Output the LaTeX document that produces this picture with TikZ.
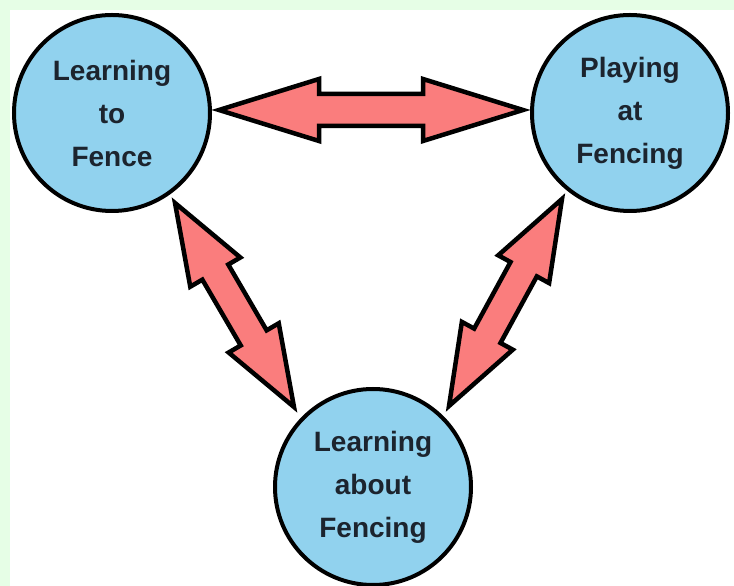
\documentclass[tikz,border=0pt]{standalone}
\usepackage{fontspec}
\setmainfont{Liberation Sans}
\usetikzlibrary{calc}
\definecolor{bggreen}{RGB}{230,254,230}
\definecolor{circblue}{RGB}{145,210,238}
\definecolor{arrred}{RGB}{250,125,125}
\definecolor{txtcol}{RGB}{28,36,46}
\pgfdeclarelayer{backlayer}
\pgfdeclarelayer{midlayer}
\pgfsetlayers{backlayer,midlayer,main}
\tikzset{
  topic/.style={circle, draw=black, line width=4pt, fill=circblue,
    minimum size=196pt, inner sep=0pt, align=center,
    font=\fontsize{28}{43}\selectfont\bfseries, text=txtcol},
  fatarrow/.style={draw=black, line width=4.5pt, fill=arrred, line join=miter},
}
% #1 prefix, #2 tip A, #3 tip B, #4 head length, #5 head half width, #6 shaft half width
\newcommand\dblarrow[6]{%
  \coordinate (#1h1) at ($(#2)!#4!(#3)$);
  \coordinate (#1h2) at ($(#3)!#4!(#2)$);
  \draw[fatarrow] (#2) -- ($(#1h1)!#5!90:(#3)$) -- ($(#1h1)!#6!90:(#3)$)
    -- ($(#1h2)!#6!-90:(#2)$) -- ($(#1h2)!#5!-90:(#2)$) -- (#3)
    -- ($(#1h2)!#5!90:(#2)$) -- ($(#1h2)!#6!90:(#2)$)
    -- ($(#1h1)!#6!-90:(#3)$) -- ($(#1h1)!#5!-90:(#3)$) -- cycle;
}
\begin{document}
\begin{tikzpicture}[x=1pt,y=1pt]
  \useasboundingbox (0,0) rectangle (734,586);
  \begin{pgfonlayer}{backlayer}
    \fill[bggreen] (0,0) rectangle (734,586);
    \fill[white] (10,0) rectangle (734,576);
  \end{pgfonlayer}
  \clip (0,0) rectangle (734,586);
  \node[topic] (L) at (112,473) {Learning\\to\\Fence};
  \node[topic] (R) at (630,473) {Playing\\at\\Fencing};
  \node[topic] (B) at (373,99) {Learning\\about\\Fencing};
  \coordinate (hA) at ($(L.center)+(107,3)$);
  \coordinate (hB) at ($(R.center)+(-107,3)$);
  \coordinate (lA) at ($(L.center)+(63,-90)$);
  \coordinate (lB) at ($(B.center)+(-79,80)$);
  \coordinate (rA) at ($(R.center)+(-68,-86)$);
  \coordinate (rB) at ($(B.center)+(76,81)$);
  \begin{pgfonlayer}{midlayer}
    \dblarrow{ha}{hA}{hB}{100pt}{31pt}{16pt}
    \dblarrow{la}{lA}{lB}{80pt}{29pt}{15pt}
    \dblarrow{ra}{rA}{rB}{80pt}{29pt}{15pt}
  \end{pgfonlayer}
\end{tikzpicture}
\end{document}
